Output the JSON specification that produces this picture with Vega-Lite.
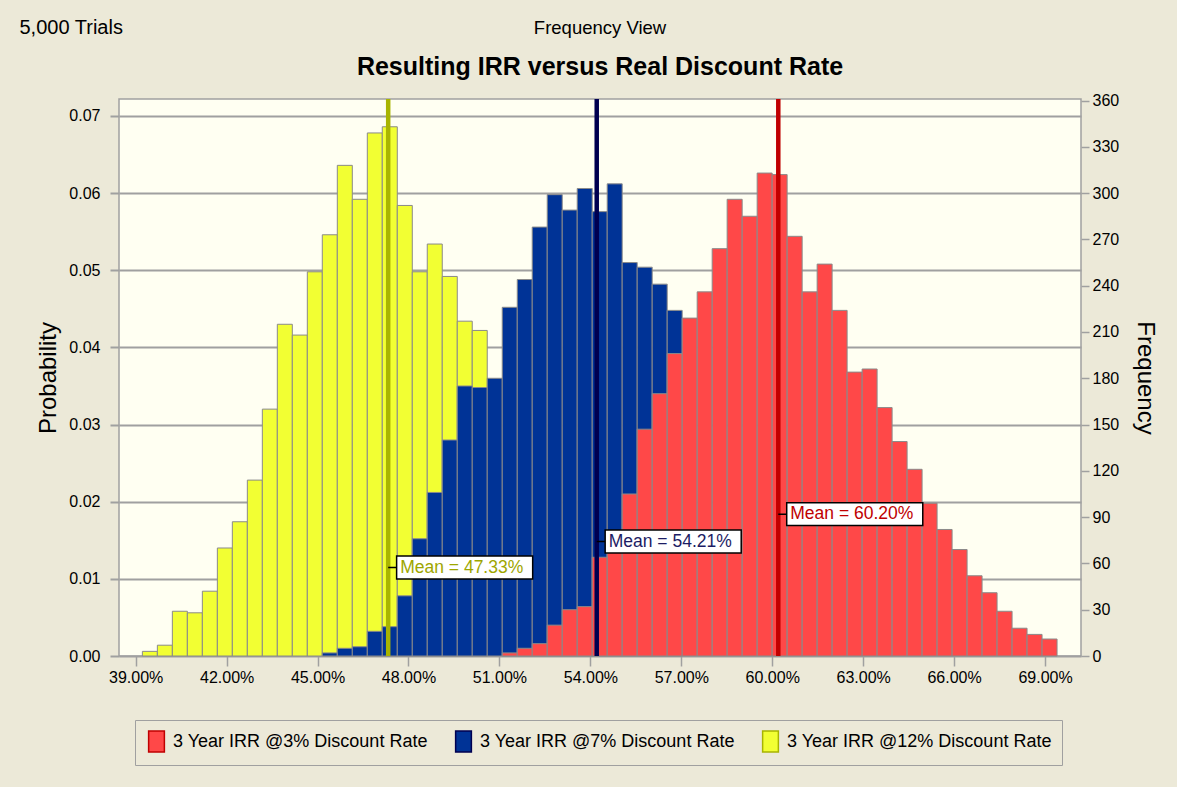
{
  "$schema": "https://vega.github.io/schema/vega-lite/v6.json",
  "width": 962,
  "height": 557,
  "autosize": {"type": "none"},
  "padding": {"left": 119, "top": 99, "right": 96, "bottom": 131},
  "background": "#ece9d8",
  "config": {
    "font": "Liberation Sans",
    "view": {"fill": "#fffff2", "stroke": "#a0a0a0", "strokeWidth": 1.5},
    "axis": {"labelColor": "#000000", "titleColor": "#000000", "labelFont": "Liberation Sans", "titleFont": "Liberation Sans", "labelFontSize": 16, "titleFontWeight": "normal"},
    "legend": {"labelFont": "Liberation Sans"}
  },
  "title": {
    "text": "Frequency View",
    "subtitle": "Resulting IRR versus Real Discount Rate",
    "anchor": "middle",
    "font": "Liberation Sans",
    "fontSize": 18.5,
    "fontWeight": "normal",
    "color": "#000000",
    "subtitleFont": "Liberation Sans",
    "subtitleFontSize": 25,
    "subtitleFontWeight": "bold",
    "subtitleColor": "#000000",
    "subtitlePadding": 18,
    "offset": -63
  },
  "datasets": {
    "hist": [
      {"series": "3 Year IRR @12% Discount Rate", "lo": 0.39220, "hi": 0.39715, "count": 3},
      {"series": "3 Year IRR @12% Discount Rate", "lo": 0.39715, "hi": 0.40209, "count": 7},
      {"series": "3 Year IRR @12% Discount Rate", "lo": 0.40209, "hi": 0.40704, "count": 29},
      {"series": "3 Year IRR @12% Discount Rate", "lo": 0.40704, "hi": 0.41199, "count": 28},
      {"series": "3 Year IRR @12% Discount Rate", "lo": 0.41199, "hi": 0.41694, "count": 42},
      {"series": "3 Year IRR @12% Discount Rate", "lo": 0.41694, "hi": 0.42188, "count": 70},
      {"series": "3 Year IRR @12% Discount Rate", "lo": 0.42188, "hi": 0.42683, "count": 87},
      {"series": "3 Year IRR @12% Discount Rate", "lo": 0.42683, "hi": 0.43178, "count": 114},
      {"series": "3 Year IRR @12% Discount Rate", "lo": 0.43178, "hi": 0.43672, "count": 160},
      {"series": "3 Year IRR @12% Discount Rate", "lo": 0.43672, "hi": 0.44167, "count": 215},
      {"series": "3 Year IRR @12% Discount Rate", "lo": 0.44167, "hi": 0.44662, "count": 208},
      {"series": "3 Year IRR @12% Discount Rate", "lo": 0.44662, "hi": 0.45156, "count": 249},
      {"series": "3 Year IRR @12% Discount Rate", "lo": 0.45156, "hi": 0.45651, "count": 273},
      {"series": "3 Year IRR @12% Discount Rate", "lo": 0.45651, "hi": 0.46146, "count": 318},
      {"series": "3 Year IRR @12% Discount Rate", "lo": 0.46146, "hi": 0.46641, "count": 296},
      {"series": "3 Year IRR @12% Discount Rate", "lo": 0.46641, "hi": 0.47135, "count": 339},
      {"series": "3 Year IRR @12% Discount Rate", "lo": 0.47135, "hi": 0.47630, "count": 343},
      {"series": "3 Year IRR @12% Discount Rate", "lo": 0.47630, "hi": 0.48125, "count": 292},
      {"series": "3 Year IRR @12% Discount Rate", "lo": 0.48125, "hi": 0.48619, "count": 249},
      {"series": "3 Year IRR @12% Discount Rate", "lo": 0.48619, "hi": 0.49114, "count": 267},
      {"series": "3 Year IRR @12% Discount Rate", "lo": 0.49114, "hi": 0.49609, "count": 246},
      {"series": "3 Year IRR @12% Discount Rate", "lo": 0.49609, "hi": 0.50103, "count": 217},
      {"series": "3 Year IRR @12% Discount Rate", "lo": 0.50103, "hi": 0.50598, "count": 211},
      {"series": "3 Year IRR @7% Discount Rate", "lo": 0.45156, "hi": 0.45651, "count": 2},
      {"series": "3 Year IRR @7% Discount Rate", "lo": 0.45651, "hi": 0.46146, "count": 5},
      {"series": "3 Year IRR @7% Discount Rate", "lo": 0.46146, "hi": 0.46641, "count": 6},
      {"series": "3 Year IRR @7% Discount Rate", "lo": 0.46641, "hi": 0.47135, "count": 16},
      {"series": "3 Year IRR @7% Discount Rate", "lo": 0.47135, "hi": 0.47630, "count": 19},
      {"series": "3 Year IRR @7% Discount Rate", "lo": 0.47630, "hi": 0.48125, "count": 39},
      {"series": "3 Year IRR @7% Discount Rate", "lo": 0.48125, "hi": 0.48619, "count": 76},
      {"series": "3 Year IRR @7% Discount Rate", "lo": 0.48619, "hi": 0.49114, "count": 106},
      {"series": "3 Year IRR @7% Discount Rate", "lo": 0.49114, "hi": 0.49609, "count": 140},
      {"series": "3 Year IRR @7% Discount Rate", "lo": 0.49609, "hi": 0.50103, "count": 175},
      {"series": "3 Year IRR @7% Discount Rate", "lo": 0.50103, "hi": 0.50598, "count": 174},
      {"series": "3 Year IRR @7% Discount Rate", "lo": 0.50598, "hi": 0.51093, "count": 180},
      {"series": "3 Year IRR @7% Discount Rate", "lo": 0.51093, "hi": 0.51588, "count": 226},
      {"series": "3 Year IRR @7% Discount Rate", "lo": 0.51588, "hi": 0.52082, "count": 244},
      {"series": "3 Year IRR @7% Discount Rate", "lo": 0.52082, "hi": 0.52577, "count": 278},
      {"series": "3 Year IRR @7% Discount Rate", "lo": 0.52577, "hi": 0.53072, "count": 299},
      {"series": "3 Year IRR @7% Discount Rate", "lo": 0.53072, "hi": 0.53566, "count": 289},
      {"series": "3 Year IRR @7% Discount Rate", "lo": 0.53566, "hi": 0.54061, "count": 303},
      {"series": "3 Year IRR @7% Discount Rate", "lo": 0.54061, "hi": 0.54556, "count": 288},
      {"series": "3 Year IRR @7% Discount Rate", "lo": 0.54556, "hi": 0.55050, "count": 306},
      {"series": "3 Year IRR @7% Discount Rate", "lo": 0.55050, "hi": 0.55545, "count": 255},
      {"series": "3 Year IRR @7% Discount Rate", "lo": 0.55545, "hi": 0.56040, "count": 252},
      {"series": "3 Year IRR @7% Discount Rate", "lo": 0.56040, "hi": 0.56535, "count": 241},
      {"series": "3 Year IRR @7% Discount Rate", "lo": 0.56535, "hi": 0.57029, "count": 224},
      {"series": "3 Year IRR @3% Discount Rate", "lo": 0.51093, "hi": 0.51588, "count": 2},
      {"series": "3 Year IRR @3% Discount Rate", "lo": 0.51588, "hi": 0.52082, "count": 5},
      {"series": "3 Year IRR @3% Discount Rate", "lo": 0.52082, "hi": 0.52577, "count": 8},
      {"series": "3 Year IRR @3% Discount Rate", "lo": 0.52577, "hi": 0.53072, "count": 20},
      {"series": "3 Year IRR @3% Discount Rate", "lo": 0.53072, "hi": 0.53566, "count": 30},
      {"series": "3 Year IRR @3% Discount Rate", "lo": 0.53566, "hi": 0.54061, "count": 32},
      {"series": "3 Year IRR @3% Discount Rate", "lo": 0.54061, "hi": 0.54556, "count": 64},
      {"series": "3 Year IRR @3% Discount Rate", "lo": 0.54556, "hi": 0.55050, "count": 80},
      {"series": "3 Year IRR @3% Discount Rate", "lo": 0.55050, "hi": 0.55545, "count": 105},
      {"series": "3 Year IRR @3% Discount Rate", "lo": 0.55545, "hi": 0.56040, "count": 147},
      {"series": "3 Year IRR @3% Discount Rate", "lo": 0.56040, "hi": 0.56535, "count": 170},
      {"series": "3 Year IRR @3% Discount Rate", "lo": 0.56535, "hi": 0.57029, "count": 196},
      {"series": "3 Year IRR @3% Discount Rate", "lo": 0.57029, "hi": 0.57524, "count": 219},
      {"series": "3 Year IRR @3% Discount Rate", "lo": 0.57524, "hi": 0.58019, "count": 236},
      {"series": "3 Year IRR @3% Discount Rate", "lo": 0.58019, "hi": 0.58513, "count": 264},
      {"series": "3 Year IRR @3% Discount Rate", "lo": 0.58513, "hi": 0.59008, "count": 296},
      {"series": "3 Year IRR @3% Discount Rate", "lo": 0.59008, "hi": 0.59503, "count": 285},
      {"series": "3 Year IRR @3% Discount Rate", "lo": 0.59503, "hi": 0.59997, "count": 313},
      {"series": "3 Year IRR @3% Discount Rate", "lo": 0.59997, "hi": 0.60492, "count": 312},
      {"series": "3 Year IRR @3% Discount Rate", "lo": 0.60492, "hi": 0.60987, "count": 272},
      {"series": "3 Year IRR @3% Discount Rate", "lo": 0.60987, "hi": 0.61482, "count": 236},
      {"series": "3 Year IRR @3% Discount Rate", "lo": 0.61482, "hi": 0.61976, "count": 254},
      {"series": "3 Year IRR @3% Discount Rate", "lo": 0.61976, "hi": 0.62471, "count": 224},
      {"series": "3 Year IRR @3% Discount Rate", "lo": 0.62471, "hi": 0.62966, "count": 184},
      {"series": "3 Year IRR @3% Discount Rate", "lo": 0.62966, "hi": 0.63460, "count": 186},
      {"series": "3 Year IRR @3% Discount Rate", "lo": 0.63460, "hi": 0.63955, "count": 161},
      {"series": "3 Year IRR @3% Discount Rate", "lo": 0.63955, "hi": 0.64450, "count": 139},
      {"series": "3 Year IRR @3% Discount Rate", "lo": 0.64450, "hi": 0.64944, "count": 121},
      {"series": "3 Year IRR @3% Discount Rate", "lo": 0.64944, "hi": 0.65439, "count": 99},
      {"series": "3 Year IRR @3% Discount Rate", "lo": 0.65439, "hi": 0.65934, "count": 82},
      {"series": "3 Year IRR @3% Discount Rate", "lo": 0.65934, "hi": 0.66429, "count": 69},
      {"series": "3 Year IRR @3% Discount Rate", "lo": 0.66429, "hi": 0.66923, "count": 52},
      {"series": "3 Year IRR @3% Discount Rate", "lo": 0.66923, "hi": 0.67418, "count": 41},
      {"series": "3 Year IRR @3% Discount Rate", "lo": 0.67418, "hi": 0.67913, "count": 29},
      {"series": "3 Year IRR @3% Discount Rate", "lo": 0.67913, "hi": 0.68407, "count": 18},
      {"series": "3 Year IRR @3% Discount Rate", "lo": 0.68407, "hi": 0.68902, "count": 14},
      {"series": "3 Year IRR @3% Discount Rate", "lo": 0.68902, "hi": 0.69397, "count": 11}
    ],
    "means": [
      {"series": "3 Year IRR @12% Discount Rate", "mean": 0.4733, "label": "Mean = 47.33%"},
      {"series": "3 Year IRR @7% Discount Rate", "mean": 0.5421, "label": "Mean = 54.21%"},
      {"series": "3 Year IRR @3% Discount Rate", "mean": 0.6020, "label": "Mean = 60.20%"}
    ]
  },
  "layer": [
    {
      "data": {"name": "hist"},
      "mark": {"type": "bar", "stroke": "#8a8a8a", "strokeWidth": 1},
      "encoding": {
        "x": {
          "field": "lo", "type": "quantitative",
          "scale": {"domain": [0.38449, 0.70187], "nice": false, "zero": false},
          "axis": {"values": [0.39, 0.42, 0.45, 0.48, 0.51, 0.54, 0.57, 0.60, 0.63, 0.66, 0.69], "format": ".2%", "title": "5,000 Trials", "titleX": -100, "titleY": -623, "titleAlign": "left", "titleAnchor": "start", "titleAngle": 0, "titleBaseline": "alphabetic", "titleFontSize": 20, "titleFontWeight": "normal", "tickSize": 10, "tickColor": "#a0a0a0", "tickWidth": 1.5, "labelPadding": 3, "domain": false, "grid": false, "labelFontSize": 16}
        },
        "x2": {"field": "hi"},
        "y": {
          "field": "count", "type": "quantitative", "stack": null,
          "scale": {"domain": [0, 361], "nice": false, "zero": true},
          "axis": {"orient": "right", "values": [0, 30, 60, 90, 120, 150, 180, 210, 240, 270, 300, 330, 360], "title": "Frequency", "titleFontSize": 24, "titlePadding": 14, "tickSize": 8, "tickColor": "#a0a0a0", "tickWidth": 1.5, "labelPadding": 3, "domain": false, "grid": false, "labelFontSize": 16}
        },
        "y2": {"datum": 0},
        "fill": {
          "field": "series", "type": "nominal",
          "scale": {"domain": ["3 Year IRR @3% Discount Rate", "3 Year IRR @7% Discount Rate", "3 Year IRR @12% Discount Rate"], "range": ["#ff4848", "#003396", "#f2ff33"]},
          "legend": {"title": null, "orient": "none", "legendX": 16, "legendY": 621, "direction": "horizontal", "symbolType": "M-0.75,-1H0.75V1H-0.75Z", "symbolSize": 441, "symbolStrokeColor": "#808080", "symbolStrokeWidth": 1.5, "symbolOpacity": 1, "labelFontSize": 18, "labelLimit": 0, "labelColor": "#000000", "labelOffset": 5, "columnPadding": 24, "padding": 10, "fillColor": "#ece9d8", "strokeColor": "#a0a0a0"}
        }
      }
    },
    {
      "data": {"name": "means"},
      "layer": [
        {
          "mark": {"type": "rule", "strokeWidth": 4.5},
          "encoding": {
            "x": {"field": "mean", "type": "quantitative", "scale": {"domain": [0.38449, 0.70187], "nice": false, "zero": false}},
            "stroke": {
              "field": "series", "type": "nominal",
              "scale": {"domain": ["3 Year IRR @3% Discount Rate", "3 Year IRR @7% Discount Rate", "3 Year IRR @12% Discount Rate"], "range": ["#c00000", "#000050", "#a8b400"]},
              "legend": null
            }
          }
        },
        {
          "transform": [{"filter": "datum.series === '3 Year IRR @12% Discount Rate'"}],
          "mark": {"type": "point", "shape": "M0,0H1.1M1.1,-1.5H18.85V1.5H1.1Z", "size": 235, "filled": true, "fill": "#ffffff", "stroke": "#000000", "strokeWidth": 1.5, "opacity": 1},
          "encoding": {
            "x": {"field": "mean", "type": "quantitative", "scale": {"domain": [0.38449, 0.70187], "nice": false, "zero": false}},
            "y": {
              "datum": 0.01146, "type": "quantitative",
              "scale": {"domain": [0, 0.0722], "nice": false, "zero": true},
              "axis": {"orient": "left", "values": [0, 0.01, 0.02, 0.03, 0.04, 0.05, 0.06, 0.07], "format": ".2f", "title": "Probability", "titleFontSize": 24, "titlePadding": 8, "grid": true, "gridColor": "#a0a0a0", "gridWidth": 2, "tickSize": 9, "tickColor": "#a0a0a0", "tickWidth": 2, "labelPadding": 10, "domain": false, "labelFontSize": 16}
            }
          }
        },
        {
          "transform": [{"filter": "datum.series === '3 Year IRR @7% Discount Rate'"}],
          "mark": {"type": "point", "shape": "M0,0H1.1M1.1,-1.5H18.85V1.5H1.1Z", "size": 235, "filled": true, "fill": "#ffffff", "stroke": "#000000", "strokeWidth": 1.5, "opacity": 1},
          "encoding": {
            "x": {"field": "mean", "type": "quantitative", "scale": {"domain": [0.38449, 0.70187], "nice": false, "zero": false}},
            "y": {"datum": 0.01484, "type": "quantitative", "scale": {"domain": [0, 0.0722], "nice": false, "zero": true}}
          }
        },
        {
          "transform": [{"filter": "datum.series === '3 Year IRR @3% Discount Rate'"}],
          "mark": {"type": "point", "shape": "M0,0H1.1M1.1,-1.5H18.85V1.5H1.1Z", "size": 235, "filled": true, "fill": "#ffffff", "stroke": "#000000", "strokeWidth": 1.5, "opacity": 1},
          "encoding": {
            "x": {"field": "mean", "type": "quantitative", "scale": {"domain": [0.38449, 0.70187], "nice": false, "zero": false}},
            "y": {"datum": 0.01839, "type": "quantitative", "scale": {"domain": [0, 0.0722], "nice": false, "zero": true}}
          }
        },
        {
          "transform": [{"filter": "datum.series === '3 Year IRR @12% Discount Rate'"}],
          "mark": {"type": "text", "align": "left", "baseline": "middle", "dx": 12, "fontSize": 17.5, "font": "Liberation Sans", "color": "#9ea600"},
          "encoding": {
            "x": {"field": "mean", "type": "quantitative", "scale": {"domain": [0.38449, 0.70187], "nice": false, "zero": false}},
            "y": {"datum": 0.01146, "type": "quantitative", "scale": {"domain": [0, 0.0722], "nice": false, "zero": true}},
            "text": {"field": "label"}
          }
        },
        {
          "transform": [{"filter": "datum.series === '3 Year IRR @7% Discount Rate'"}],
          "mark": {"type": "text", "align": "left", "baseline": "middle", "dx": 12, "fontSize": 17.5, "font": "Liberation Sans", "color": "#1c1c64"},
          "encoding": {
            "x": {"field": "mean", "type": "quantitative", "scale": {"domain": [0.38449, 0.70187], "nice": false, "zero": false}},
            "y": {"datum": 0.01484, "type": "quantitative", "scale": {"domain": [0, 0.0722], "nice": false, "zero": true}},
            "text": {"field": "label"}
          }
        },
        {
          "transform": [{"filter": "datum.series === '3 Year IRR @3% Discount Rate'"}],
          "mark": {"type": "text", "align": "left", "baseline": "middle", "dx": 12, "fontSize": 17.5, "font": "Liberation Sans", "color": "#c00000"},
          "encoding": {
            "x": {"field": "mean", "type": "quantitative", "scale": {"domain": [0.38449, 0.70187], "nice": false, "zero": false}},
            "y": {"datum": 0.01839, "type": "quantitative", "scale": {"domain": [0, 0.0722], "nice": false, "zero": true}},
            "text": {"field": "label"}
          }
        }
      ]
    }
  ],
  "resolve": {"scale": {"y": "independent"}}
}
